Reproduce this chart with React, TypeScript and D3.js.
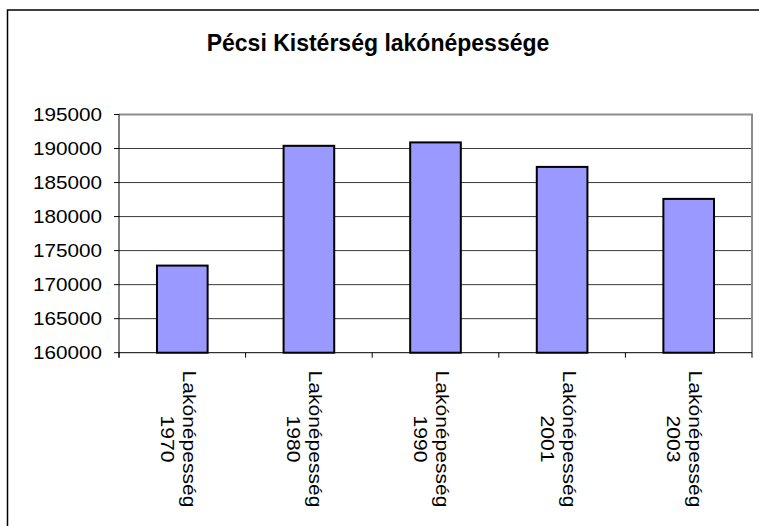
import * as d3 from 'd3'
import React from 'react'

const categories = ['1970', '1980', '1990', '2001', '2003']
const seriesName = 'Lakónépesség'
const values = [172800, 190400, 190900, 187300, 182600]
const yTicks = [160000, 165000, 170000, 175000, 180000, 185000, 190000, 195000]
const title = 'Pécsi Kistérség lakónépessége'

const W = 759
const H = 526
const plot = { left: 119, top: 114.5, right: 752, bottom: 352.7 }
const font = 'Arial, "Liberation Sans", Helvetica, sans-serif'
// the original text is drawn a bit wide, so stretch it along its own direction
const stretch = 1.17

const App = () => {
  const x = d3
    .scaleBand()
    .domain(categories)
    .range([plot.left, plot.right])
    .paddingInner(0.6)
    .paddingOuter(0.3)
  const y = d3.scaleLinear().domain([160000, 195000]).range([plot.bottom, plot.top])
  const slot = (plot.right - plot.left) / categories.length
  const boundaries = d3.range(categories.length + 1).map((i) => plot.left + i * slot)

  return (
    <svg width={W} height={H} style={{ position: 'absolute', left: 0, top: 0 }}>
      <rect x={0} y={0} width={W} height={H} fill="white" />
      <rect x={7.5} y={10} width={W + 10} height={H + 10} fill="white" stroke="black" strokeWidth={1.5} />
      <text x={378} y={51} textAnchor="middle" fontFamily={font} fontWeight="bold" fontSize={23}>
        {title}
      </text>

      {/* gridlines */}
      {yTicks.slice(1, -1).map((t) => (
        <line key={t} x1={plot.left} x2={plot.right} y1={y(t)} y2={y(t)} stroke="#3a3a3a" strokeWidth={1} />
      ))}
      {/* plot border top/right */}
      <path
        d={`M${plot.left},${plot.top}H${plot.right}V${plot.bottom}`}
        fill="none"
        stroke="#8c8c8c"
        strokeWidth={2}
      />

      {/* bars */}
      {categories.map((c, i) => (
        <rect
          key={c}
          x={x(c)}
          y={y(values[i])}
          width={x.bandwidth()}
          height={plot.bottom - y(values[i])}
          fill="#9999ff"
          stroke="black"
          strokeWidth={2}
        />
      ))}

      {/* y axis */}
      <line x1={plot.left} x2={plot.left} y1={plot.top} y2={plot.bottom + 5} stroke="black" strokeWidth={1} />
      {yTicks.map((t) => (
        <g key={t}>
          <line x1={plot.left - 5} x2={plot.left} y1={y(t)} y2={y(t)} stroke="black" strokeWidth={1} />
          <g transform={`translate(102,${y(t) + 6.5}) scale(${stretch},1)`}>
            <text textAnchor="end" fontFamily={font} fontSize={17.7}>
              {t}
            </text>
          </g>
        </g>
      ))}

      {/* x axis */}
      <line x1={plot.left} x2={plot.right} y1={plot.bottom} y2={plot.bottom} stroke="black" strokeWidth={1} />
      {boundaries.map((bx, i) => (
        <line key={i} x1={bx} x2={bx} y1={plot.bottom} y2={plot.bottom + 5} stroke="black" strokeWidth={1} />
      ))}
      {categories.map((c) => {
        const cx = x(c) + x.bandwidth() / 2
        return (
          <g key={c} transform={`translate(${cx},370) rotate(90) scale(${stretch},1)`}>
            <text x={69 / stretch} y={-0.5} textAnchor="middle" fontFamily={font} fontSize={18}>
              {seriesName}
            </text>
            <text x={69 / stretch} y={21.5} textAnchor="middle" fontFamily={font} fontSize={18}>
              {c}
            </text>
          </g>
        )
      })}
    </svg>
  )
}

export default App
